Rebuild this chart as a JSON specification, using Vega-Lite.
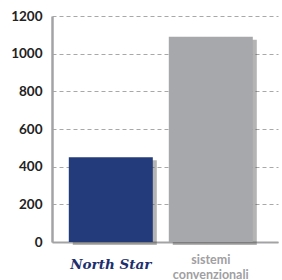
{
  "$schema": "https://vega.github.io/schema/vega-lite/v6.json",
  "width": 226,
  "height": 226,
  "autosize": {"type": "none"},
  "padding": {"left": 52, "top": 16, "right": 4, "bottom": 38},
  "background": "white",
  "data": {"values": [
    {"system": "North Star", "value": 450},
    {"system": "sistemi convenzionali", "value": 1090}
  ]},
  "encoding": {
    "x": {
      "field": "system", "type": "nominal", "sort": null,
      "scale": {"paddingInner": 0.16, "paddingOuter": 0.21, "align": 0.4},
      "axis": {
        "title": null, "ticks": false, "labelAngle": 0,
        "labelBaseline": "alphabetic",
        "labelPadding": {"condition": {"test": "datum.value == 'North Star'", "value": 26}, "value": 21},
        "domainColor": "#a3a3a6", "domainWidth": 2,
        "labelExpr": "datum.value == 'North Star' ? 'North Star' : ['sistemi', 'convenzionali']",
        "labelFont": {"condition": {"test": "datum.value == 'North Star'", "value": "DejaVu Serif"}, "value": "Lato"},
        "labelFontStyle": {"condition": {"test": "datum.value == 'North Star'", "value": "italic"}, "value": "normal"},
        "labelFontWeight": "bold",
        "labelFontSize": {"condition": {"test": "datum.value == 'North Star'", "value": 13.5}, "value": 12.5},
        "labelColor": {"condition": {"test": "datum.value == 'North Star'", "value": "#1c2f6e"}, "value": "#a0a0a2"},
        "labelLineHeight": 15
      }
    },
    "y": {
      "field": "value", "type": "quantitative",
      "scale": {"domain": [0, 1200], "nice": false},
      "axis": {
        "title": null, "values": [0, 200, 400, 600, 800, 1000, 1200], "format": "d",
        "ticks": false, "labelPadding": 10,
        "labelFont": "Lato", "labelFontWeight": "bold", "labelFontSize": 13.5, "labelColor": "#222222",
        "domainColor": "#a3a3a6", "domainWidth": 2.5,
        "gridColor": "#a8a8a8", "gridDash": [4, 3], "gridWidth": 1
      }
    }
  },
  "layer": [
    {"mark": {"type": "bar", "color": "#444444", "opacity": 0.4, "xOffset": 4, "yOffset": 3}},
    {"mark": {"type": "bar"},
     "encoding": {"color": {"field": "system", "type": "nominal", "legend": null,
       "scale": {"domain": ["North Star", "sistemi convenzionali"], "range": ["#233a7b", "#a7a8ab"]}}}}
  ],
  "config": {"view": {"stroke": null}}
}
